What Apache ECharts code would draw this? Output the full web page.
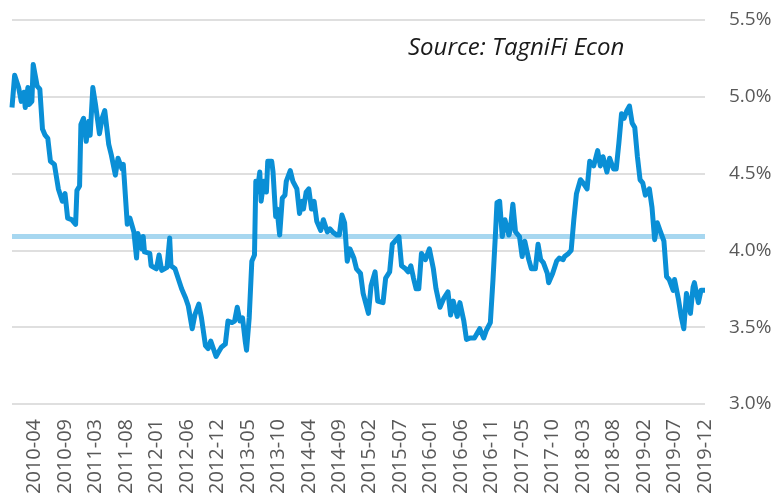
<!DOCTYPE html>
<html>
<head>
<meta charset="utf-8">
<script src="https://cdn.jsdelivr.net/npm/echarts@6/dist/echarts.min.js"></script>
<style>
  html, body { margin: 0; padding: 0; background: #fff; }
  #chart { width: 779px; height: 501px; }
</style>
</head>
<body>
<div id="chart"></div>
<script>
// week index (0 = first week of 2010) and the rate
const weeks = [
  0, 2, 5, 7, 9, 10, 12, 13, 15, 16,
  19, 21, 23, 25, 27, 29, 32, 35, 38, 40,
  42, 45, 48, 49, 51, 52, 54, 56, 58, 59,
  61, 63, 66, 68, 70, 73, 75, 78, 80, 83,
  84, 87, 89, 92, 94, 95, 98, 99, 100, 104,
  105, 109, 111, 113, 117, 119, 120, 123, 128, 131,
  133, 136, 138, 141, 143, 146, 148, 150, 152, 154,
  156, 158, 161, 163, 166, 168, 170, 172, 174, 176,
  177, 179, 181, 183, 184, 185, 187, 188, 190, 192,
  193, 196, 197, 199, 200, 202, 204, 206, 207, 210,
  212, 215, 217, 219, 220, 222, 224, 226, 228, 230,
  233, 235, 238, 240, 242, 245, 247, 249, 251, 253,
  255, 258, 260, 263, 265, 269, 271, 274, 276, 280,
  282, 285, 287, 289, 292, 294, 297, 299, 301, 303,
  305, 307, 309, 312, 315, 318, 320, 323, 326, 329,
  331, 333, 336, 338, 341, 343, 346, 349, 353, 356,
  358, 361, 363, 365, 366, 368, 370, 372, 375, 376,
  378, 380, 383, 385, 387, 390, 392, 395, 397, 399,
  401, 404, 405, 408, 411, 413, 416, 417, 420, 422,
  424, 426, 429, 431, 434, 436, 439, 442, 444, 446,
  449, 451, 454, 456, 458, 460, 462, 464, 466, 468,
  470, 472, 474, 476, 478, 481, 483, 485, 487, 489,
  492, 494, 496, 499, 500, 503, 505, 507, 509, 512,
  514, 515, 518, 520, 523
]
const rates = [
  4.93, 5.14, 5.06, 4.97, 5.03, 4.93, 5.06, 4.95, 4.97, 5.21,
  5.07, 5.05, 4.79, 4.75, 4.73, 4.58, 4.56, 4.40, 4.32, 4.37,
  4.21, 4.20, 4.17, 4.39, 4.42, 4.82, 4.86, 4.71, 4.84, 4.75,
  5.06, 4.95, 4.76, 4.86, 4.91, 4.69, 4.62, 4.49, 4.60, 4.53,
  4.56, 4.17, 4.21, 4.12, 3.95, 4.11, 4.01, 4.09, 3.99, 3.98,
  3.90, 3.88, 3.97, 3.87, 3.89, 4.08, 3.90, 3.88, 3.75, 3.69,
  3.64, 3.49, 3.58, 3.65, 3.56, 3.38, 3.36, 3.41, 3.36, 3.31,
  3.34, 3.37, 3.39, 3.54, 3.53, 3.54, 3.63, 3.54, 3.56, 3.41,
  3.35, 3.56, 3.93, 3.97, 4.45, 4.38, 4.51, 4.32, 4.45, 4.38,
  4.58, 4.58, 4.51, 4.22, 4.27, 4.10, 4.34, 4.36, 4.45, 4.52,
  4.45, 4.40, 4.24, 4.32, 4.27, 4.38, 4.40, 4.27, 4.32, 4.19,
  4.13, 4.20, 4.12, 4.14, 4.12, 4.10, 4.10, 4.23, 4.18, 3.93,
  4.01, 3.95, 3.88, 3.85, 3.72, 3.59, 3.77, 3.86, 3.67, 3.66,
  3.82, 3.86, 4.04, 4.06, 4.09, 3.90, 3.88, 3.86, 3.90, 3.82,
  3.75, 3.75, 3.98, 3.94, 4.01, 3.88, 3.75, 3.63, 3.69, 3.73,
  3.58, 3.67, 3.57, 3.66, 3.54, 3.42, 3.43, 3.43, 3.49, 3.43,
  3.48, 3.53, 3.81, 4.13, 4.31, 4.32, 4.09, 4.20, 4.10, 4.13,
  4.30, 4.12, 4.09, 3.96, 4.06, 3.94, 3.88, 3.88, 4.04, 3.94,
  3.92, 3.85, 3.79, 3.85, 3.93, 3.95, 3.94, 3.96, 3.98, 4.00,
  4.20, 4.37, 4.46, 4.44, 4.40, 4.58, 4.55, 4.65, 4.55, 4.61,
  4.51, 4.60, 4.53, 4.53, 4.70, 4.89, 4.86, 4.91, 4.94, 4.83,
  4.80, 4.61, 4.46, 4.44, 4.36, 4.40, 4.28, 4.07, 4.18, 4.13,
  4.06, 3.83, 3.81, 3.74, 3.81, 3.68, 3.57, 3.49, 3.72, 3.59,
  3.76, 3.79, 3.66, 3.74, 3.74
]
const tickLabels = [
  '2010-04', '2010-09', '2011-03', '2011-08', '2012-01', '2012-06',
  '2012-12', '2013-05', '2013-10', '2014-04', '2014-09', '2015-02',
  '2015-07', '2016-01', '2016-06', '2016-11', '2017-05', '2017-10',
  '2018-03', '2018-08', '2019-02', '2019-07', '2019-12'
]
const avgRate = 4.09
const firstLabelWeek = 17
const labelStep = 23
const lastWeek = 523

const weekCats = []
for (let i = 0; i <= lastWeek; i++) weekCats.push(String(i))

const lineData = weeks.map((w, i) => [w, rates[i]])

const chart = echarts.init(document.getElementById('chart'))
const font = 'Open Sans'
const option = {
  animation: false,
  grid: { left: 12, right: 74, top: 20, bottom: 97 },
  graphic: [
    {
      type: 'text',
      left: 408,
      top: 36,
      style: {
        text: 'Source: TagniFi Econ',
        font: 'italic 24px "Open Sans"',
        fill: '#1a1a1a'
      }
    }
  ],
  xAxis: {
    type: 'category',
    data: weekCats,
    boundaryGap: false,
    axisLine: { show: false },
    axisTick: { show: false },
    splitLine: { show: false },
    axisLabel: {
      rotate: 90,
      margin: 15,
      fontFamily: font,
      fontSize: 20,
      color: '#595959',
      interval: (i) => i >= firstLabelWeek && (i - firstLabelWeek) % labelStep === 0,
      formatter: (v, i) => tickLabels[(i - firstLabelWeek) / labelStep] || ''
    }
  },
  yAxis: {
    type: 'value',
    position: 'right',
    min: 3.0,
    max: 5.5,
    interval: 0.5,
    axisLine: { show: false },
    axisTick: { show: false },
    splitLine: { lineStyle: { color: '#D4D4D4', width: 1.5 } },
    axisLabel: {
      margin: 24,
      fontFamily: font,
      fontSize: 19,
      color: '#595959',
      formatter: (v) => v.toFixed(1) + '%'
    }
  },
  series: [
    {
      name: 'Average',
      type: 'line',
      data: [[0, avgRate], [lastWeek, avgRate]],
      showSymbol: false,
      silent: true,
      z: 1,
      lineStyle: { color: '#A7D7F0', width: 5 }
    },
    {
      name: 'Rate',
      type: 'line',
      data: lineData,
      showSymbol: false,
      z: 2,
      lineStyle: { color: '#0A8FD6', width: 5, join: 'round' }
    }
  ]
}
chart.setOption(option)
</script>
</body>
</html>
